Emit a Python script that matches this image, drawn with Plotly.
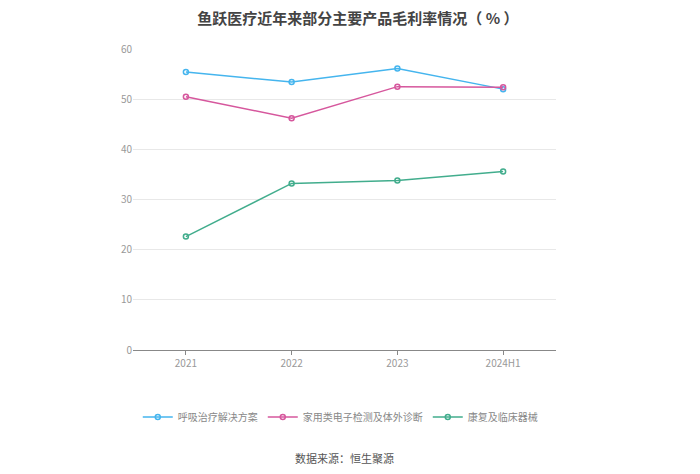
import plotly.graph_objects as go

years = ["2021", "2022", "2023", "2024H1"]
huxi = [55.4, 53.4, 56.1, 52.0]
jiayong = [50.5, 46.2, 52.5, 52.4]
kangfu = [22.6, 33.2, 33.8, 35.6]

series = [
    ("呼吸治疗解决方案", huxi, "#45b5ee"),
    ("家用类电子检测及体外诊断", jiayong, "#d6579d"),
    ("康复及临床器械", kangfu, "#42ad8d"),
]

fig = go.Figure()
for name, vals, color in series:
    fig.add_trace(go.Scatter(
        x=years, y=vals, name=name, mode="lines+markers",
        line=dict(color=color, width=1.5),
        marker=dict(symbol="circle-open", size=5, color=color, line=dict(width=1.5)),
    ))

font = "Noto Sans CJK SC"
# page body adds an 8px offset, so margins are shifted to compensate
fig.update_layout(
    width=700, height=474,
    margin=dict(l=125, r=152, t=41, b=132),
    paper_bgcolor="white", plot_bgcolor="white",
    font=dict(family=font, size=11, color="#999999"),
    title=dict(text="<b>鱼跃医疗近年来部分主要产品毛利率情况（ % ）</b>",
               x=0.5, xanchor="center", y=0.978, yanchor="middle",
               font=dict(size=15, color="#444444", family=font)),
    showlegend=True,
    legend=dict(orientation="h", x=0.49, xanchor="center", y=-0.223, yanchor="middle",
                font=dict(size=10, color="#888888")),
    xaxis=dict(type="category", range=[-0.5, 3.5], showgrid=False,
               showline=True, linecolor="#888888", linewidth=1,
               ticks="outside", ticklen=4, tickcolor="#888888",
               tickfont=dict(size=10, color="#999999")),
    yaxis=dict(range=[0, 60], dtick=10, showgrid=True, gridcolor="#e8e8e8",
               zeroline=False, showline=False, ticks="",
               tickfont=dict(size=10, color="#999999")),
    annotations=[dict(text="数据来源：恒生聚源", x=0.5, xref="paper",
                      y=-0.36, yref="paper", yanchor="middle", showarrow=False,
                      font=dict(size=11, color="#555555"))],
)

fig.write_html("out.html")
